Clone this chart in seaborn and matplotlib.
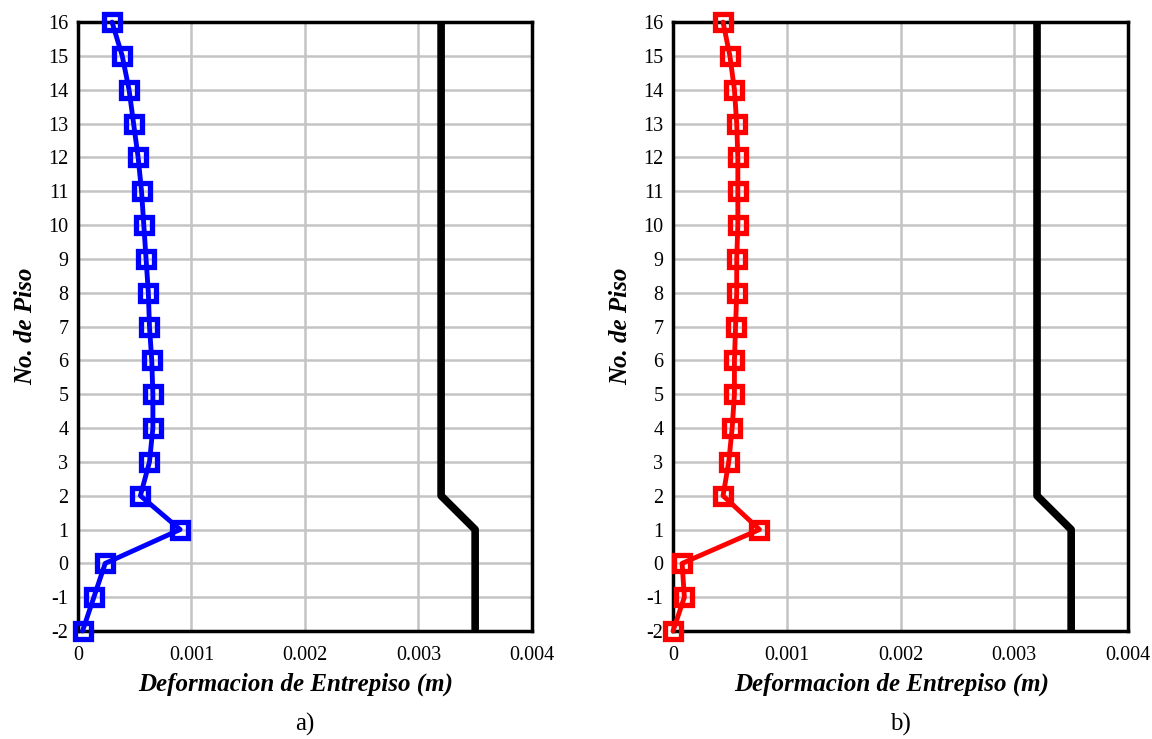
import matplotlib
matplotlib.use("Agg")
import matplotlib.pyplot as plt
import seaborn as sns
import pandas as pd

# Floor numbers (basements negative) and inter-storey drift for each case
pisos = [16, 15, 14, 13, 12, 11, 10, 9, 8, 7, 6, 5, 4, 3, 2, 1, 0, -1, -2]
deriva_a = [0.00030, 0.00039, 0.00045, 0.00049, 0.00053, 0.00056, 0.00058,
            0.00060, 0.00062, 0.00063, 0.00065, 0.00066, 0.00066, 0.00063,
            0.00055, 0.00090, 0.00024, 0.00014, 0.00004]
deriva_b = [0.00044, 0.00050, 0.00054, 0.00056, 0.00057, 0.00057, 0.00057,
            0.00056, 0.00056, 0.00055, 0.00054, 0.00054, 0.00052, 0.00049,
            0.00044, 0.00076, 0.00008, 0.00010, 0.00000]

# Allowable drift limit
limite_pisos = [16, 2, 1, -2]
limite_valor = [0.0032, 0.0032, 0.0035, 0.0035]

x_ticks = [0, 0.001, 0.002, 0.003, 0.004]
x_tick_labels = ["0", "0.001", "0.002", "0.003", "0.004"]
y_ticks = list(range(-2, 17))

sns.set_theme(style="white")
plt.rcParams["font.family"] = ["Liberation Serif", "DejaVu Serif"]
plt.rcParams["text.color"] = "black"
plt.rcParams["axes.labelcolor"] = "black"
plt.rcParams["xtick.color"] = "black"
plt.rcParams["ytick.color"] = "black"

fig = plt.figure(figsize=(11.52, 7.39), dpi=100)
ax_a = fig.add_axes([0.0677, 0.1461, 0.394, 0.824])
ax_b = fig.add_axes([0.5842, 0.1461, 0.395, 0.824])

paneles = [(ax_a, deriva_a, "#0000ff", "a)"), (ax_b, deriva_b, "#ff0000", "b)")]

for ax, deriva, color, letra in paneles:
    df = pd.DataFrame({"piso": pisos, "deriva": deriva})
    lim = pd.DataFrame({"piso": limite_pisos, "deriva": limite_valor})
    sns.lineplot(data=lim, x="deriva", y="piso", sort=False, color="black",
                 linewidth=5.5, ax=ax, estimator=None)
    sns.lineplot(data=df, x="deriva", y="piso", sort=False, color=color,
                 linewidth=3.5, marker="s", markersize=11, markeredgewidth=3.8,
                 markerfacecolor="none", markeredgecolor=color, ax=ax,
                 estimator=None, clip_on=False, zorder=5)
    ax.set_xlim(0, 0.004)
    ax.set_ylim(-2, 16)
    ax.set_xticks(x_ticks)
    ax.set_xticklabels(x_tick_labels)
    ax.set_yticks(y_ticks)
    ax.set_yticklabels([str(v) for v in y_ticks])
    ax.grid(True, which="major", color="#c4c4c4", linewidth=1.8)
    ax.tick_params(axis="x", length=0, labelsize=14.5, pad=11, labelcolor="black")
    ax.tick_params(axis="y", length=0, labelsize=14.5, pad=7, labelcolor="black")
    for s in ax.spines.values():
        s.set_color("black")
        s.set_linewidth(2.5)
    ax.set_xlabel("Deformacion de Entrepiso (m)", fontsize=18, fontweight="bold",
                  fontstyle="italic", labelpad=5, color="black")
    ax.xaxis.label.set_x(0.48)
    ax.set_ylabel("No. de Piso", fontsize=18, fontweight="bold",
                  fontstyle="italic", labelpad=8, color="black")
    ax.text(0.5, -0.135, letra, transform=ax.transAxes, ha="center", va="top",
            fontsize=18, color="black")

fig.savefig("out.png", dpi=100)
